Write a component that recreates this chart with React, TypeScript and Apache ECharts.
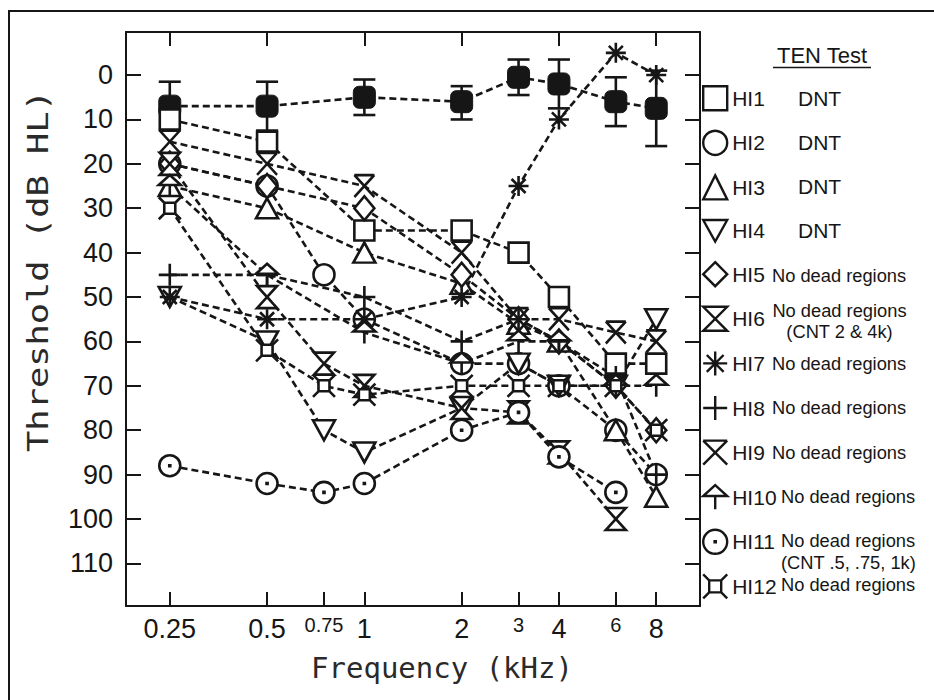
import React, { useEffect, useRef } from "react";
import * as echarts from "echarts";

// ---------- data ----------
const freqs = [0.25, 0.5, 0.75, 1, 2, 3, 4, 6, 8];
const xTickFreqs = [0.25, 0.5, 0.75, 1, 2, 3, 4, 6, 8];
const xTickLabels = ["0.25", "0.5", "0.75", "1", "2", "3", "4", "6", "8"];
const smallTickLabels = ["0.75", "3", "6"];
const topTickFreqs = [0.25, 0.5, 1, 2, 4, 8];
const yTicks = [0, 10, 20, 30, 40, 50, 60, 70, 80, 90, 100, 110];

// normal-hearing group mean with error bars (top = less hearing loss)
const normalMean = [7, 7, null, 5, 6, 0.5, 2, 6, 7.5];
const normalTop = [1.5, 1.5, null, 1, 2.5, -3.5, -3.5, 0.5, -1];
const normalBottom = [12.5, 12.5, null, 9, 10, 4.5, 7.5, 11.5, 16];

const listeners = ["HI1", "HI2", "HI3", "HI4", "HI5", "HI6", "HI7", "HI8", "HI9", "HI10", "HI11", "HI12"];
const hi1 = [10, 15, null, 35, 35, 40, 50, 65, 65];
const hi2 = [20, 25, 45, 55, 65, 65, 70, 80, 90];
const hi3 = [25, 30, null, 40, 47, 56, 60, 80, 95];
const hi4 = [50, 60, 80, 85, 75, 65, 70, 70, 55];
const hi5 = [20, 25, null, 30, 45, 55, 60, 70, 80];
const hi6 = [20, 50, 65, 70, 75, 76, 85, 100, null];
const hi7 = [50, 55, null, 55, 50, 25, 10, -5, 0];
const hi8 = [45, 45, null, 50, 60, 55, 60, 68, 90];
const hi9 = [15, 20, null, 25, 40, 55, 55, 58, 60];
const hi10 = [25, 45, null, 58, 65, 60, 60, 70, 70];
const hi11 = [88, 92, 94, 92, 80, 76, 86, 94, null];
const hi12 = [30, 62, 70, 72, 70, 70, 70, 70, 80];
const listenerValues = [hi1, hi2, hi3, hi4, hi5, hi6, hi7, hi8, hi9, hi10, hi11, hi12];

const tenResults = [
  "DNT", "DNT", "DNT", "DNT",
  "No dead regions", "No dead regions", "No dead regions", "No dead regions",
  "No dead regions", "No dead regions", "No dead regions", "No dead regions",
];
const tenNotes: Record<number, string> = { 5: "(CNT 2 & 4k)", 10: "(CNT .5, .75, 1k)" };

// ---------- styles ----------
const INK = "#161616";
const SANS = "'Liberation Sans', Arial, Helvetica, sans-serif";
const MONO = "'DejaVu Sans Mono', monospace";

const symbolStyles: [string, number[]][] = [
  ["rect", [20, 20]],
  ["circle", [21, 21]],
  ["triangle", [22, 20]],
  ["path://M0 0H20L10 18Z", [22, 20]],
  ["diamond", [20, 24]],
  ["path://M0 0H20L0 20H20Z", [20, 22]],
  ["path://M0 10H20M10 0V20M3 3L17 17M17 3L3 17", [20, 20]],
  ["path://M0 10H20M10 0V20", [22, 22]],
  ["path://M0 0H20M0 0L20 20M20 0L0 20", [20, 22]],
  ["path://M10 0L20 9H0Z M10 9V20", [22, 22]],
  ["path://M0 10A10 10 0 1 0 20 10A10 10 0 1 0 0 10Z M9.5 9.5H10.5V10.5H9.5Z", [21, 21]],
  ["path://M5 5H15V15H5Z M0 0L5 5 M20 0L15 5 M0 20L5 15 M20 20L15 15", [22, 22]],
];

const log2 = (f: number) => Math.log(f) / Math.LN2;
const pts = (vals: (number | null)[]) =>
  freqs
    .map((f, i) => (vals[i] == null ? null : [log2(f), vals[i] as number]))
    .filter((p) => p !== null) as number[][];

const dash = { color: INK, width: 2.6, type: [7, 4] as number[] };

export default function App() {
  const ref = useRef<HTMLDivElement>(null);

  useEffect(() => {
    if (!ref.current) return;
    const chart = echarts.init(ref.current, undefined, { renderer: "svg" });

    const xTickVals = xTickFreqs.map(log2);
    const topTickVals = topTickFreqs.map(log2);
    const axisLineStyle = { color: INK, width: 2 };

    const errData = freqs
      .map((f, i) => (normalMean[i] == null ? null : [log2(f), normalTop[i] as number, normalBottom[i] as number]))
      .filter((p) => p !== null) as number[][];

    const series: any[] = [
      {
        type: "custom",
        name: "errors",
        data: errData,
        encode: { x: 0, y: [1, 2] },
        silent: true,
        z: 1,
        renderItem: (params: any, api: any) => {
          const x = api.value(0);
          const a = api.coord([x, api.value(1)]);
          const b = api.coord([x, api.value(2)]);
          const w = 11;
          const st = { stroke: INK, lineWidth: 2.6 };
          return {
            type: "group",
            children: [
              { type: "line", shape: { x1: a[0], y1: a[1], x2: b[0], y2: b[1] }, style: st },
              { type: "line", shape: { x1: a[0] - w, y1: a[1], x2: a[0] + w, y2: a[1] }, style: st },
              { type: "line", shape: { x1: b[0] - w, y1: b[1], x2: b[0] + w, y2: b[1] }, style: st },
            ],
          };
        },
      },
      {
        type: "line",
        name: "Normal",
        data: pts(normalMean),
        symbol: "roundRect",
        symbolSize: 22,
        itemStyle: { color: INK, borderColor: INK, borderWidth: 1 },
        lineStyle: dash,
        silent: true,
        z: 2,
      },
    ];

    listeners.forEach((name, i) => {
      series.push({
        type: "line",
        name,
        data: pts(listenerValues[i]),
        symbol: symbolStyles[i][0],
        symbolSize: symbolStyles[i][1],
        itemStyle: { color: "#ffffff", borderColor: INK, borderWidth: 2.6 },
        lineStyle: dash,
        emphasis: { disabled: true },
        silent: true,
        z: 3,
      });
    });

    const rowY = (i: number) => 98 + i * 44.27;
    const graphics: any[] = [
      {
        type: "rect",
        shape: { x: 9, y: 11, width: 1000, height: 1000 },
        style: { fill: "none", stroke: INK, lineWidth: 2 },
        silent: true,
      },
      {
        type: "text",
        x: 822,
        y: 55,
        style: {
          text: "TEN Test", fontSize: 22, fontFamily: SANS, fill: INK,
          align: "center", verticalAlign: "middle", textAlign: "center", textVerticalAlign: "middle",
        },
      },
      {
        type: "line",
        shape: { x1: 773, y1: 67.5, x2: 871, y2: 67.5 },
        style: { stroke: INK, lineWidth: 1.5 },
      },
      {
        type: "text",
        x: 442,
        y: 668,
        style: {
          text: "Frequency (kHz)", fontSize: 29, fontFamily: MONO, fill: "#2a2a2a",
          align: "center", verticalAlign: "middle", textAlign: "center", textVerticalAlign: "middle",
        },
      },
      {
        type: "text",
        x: 38,
        y: 271,
        rotation: Math.PI / 2,
        scaleX: 1.22,
        style: {
          text: "Threshold (dB HL)", fontSize: 29, fontFamily: MONO, fill: "#2a2a2a",
          align: "center", verticalAlign: "middle", textAlign: "center", textVerticalAlign: "middle",
        },
      },
    ];

    tenResults.forEach((txt, i) => {
      const y = rowY(i);
      if (txt === "DNT") {
        graphics.push({
          type: "text", x: 798, y,
          style: { text: txt, fontSize: 21, fontFamily: SANS, fill: INK, align: "left", verticalAlign: "middle", textAlign: "left", textVerticalAlign: "middle" },
        });
      } else if (i === 5) {
        graphics.push({
          type: "text", x: 839.5, y: y - 9,
          style: { text: txt, fontSize: 18.3, fontFamily: SANS, fill: INK, align: "center", verticalAlign: "middle", textAlign: "center", textVerticalAlign: "middle" },
        });
        graphics.push({
          type: "text", x: 839.5, y: y + 12.5,
          style: { text: tenNotes[i], fontSize: 18.3, fontFamily: SANS, fill: INK, align: "center", verticalAlign: "middle", textAlign: "center", textVerticalAlign: "middle" },
        });
      } else {
        const x = i >= 9 ? 781 : 772;
        graphics.push({
          type: "text", x, y,
          style: { text: txt, fontSize: 18.3, fontFamily: SANS, fill: INK, align: "left", verticalAlign: "middle", textAlign: "left", textVerticalAlign: "middle" },
        });
        if (tenNotes[i]) {
          graphics.push({
            type: "text", x, y: y + 22,
            style: { text: tenNotes[i], fontSize: 18.3, fontFamily: SANS, fill: INK, align: "left", verticalAlign: "middle", textAlign: "left", textVerticalAlign: "middle" },
          });
        }
      }
    });

    const option: any = {
      animation: false,
      backgroundColor: "#ffffff",
      grid: { left: 126, top: 32, width: 574, height: 574 },
      xAxis: [
        {
          type: "value",
          min: -2.45,
          max: 3.45,
          position: "bottom",
          axisLine: { show: true, onZero: false, lineStyle: axisLineStyle },
          axisTick: { show: true, inside: true, length: 14, customValues: xTickVals, lineStyle: axisLineStyle },
          axisLabel: {
            customValues: xTickVals,
            margin: 9,
            formatter: (v: number) => {
              const i = xTickVals.findIndex((t) => Math.abs(t - v) < 1e-6);
              if (i < 0) return "";
              const l = xTickLabels[i];
              return smallTickLabels.includes(l) ? `{s|${l}}` : `{b|${l}}`;
            },
            rich: {
              b: { fontSize: 27, fontFamily: SANS, color: INK },
              s: { fontSize: 20, fontFamily: SANS, color: INK },
            },
          },
          splitLine: { show: false },
        },
        {
          type: "value",
          min: -2.45,
          max: 3.45,
          position: "top",
          axisLine: { show: true, onZero: false, lineStyle: axisLineStyle },
          axisTick: { show: true, inside: true, length: 14, customValues: topTickVals, lineStyle: axisLineStyle },
          axisLabel: { show: false },
          splitLine: { show: false },
        },
      ],
      yAxis: [
        {
          type: "value",
          inverse: true,
          min: -9.7,
          max: 119.6,
          position: "left",
          axisLine: { show: true, onZero: false, lineStyle: axisLineStyle },
          axisTick: { show: true, inside: true, length: 15, customValues: yTicks, lineStyle: axisLineStyle },
          axisLabel: { customValues: yTicks, margin: 13, fontSize: 27, fontFamily: SANS, color: INK },
          splitLine: { show: false },
        },
        {
          type: "value",
          inverse: true,
          min: -9.7,
          max: 119.6,
          position: "right",
          axisLine: { show: true, onZero: false, lineStyle: axisLineStyle },
          axisTick: { show: true, inside: true, length: 15, customValues: yTicks, lineStyle: axisLineStyle },
          axisLabel: { show: false },
          splitLine: { show: false },
        },
      ],
      legend: {
        orient: "vertical",
        left: 702,
        top: 85,
        padding: 0,
        itemWidth: 24,
        itemHeight: 24,
        itemGap: 18.2,
        selectedMode: false,
        data: listeners.map((n, i) => ({ name: n, icon: symbolStyles[i][0] })),
        itemStyle: { color: "#ffffff", borderColor: INK, borderWidth: 2.4 },
        textStyle: { fontFamily: SANS, fontSize: 21, color: INK },
      },
      graphic: graphics,
      series,
    };

    chart.setOption(option);
    return () => chart.dispose();
  }, []);

  return (
    <div
      ref={ref}
      style={{ position: "fixed", left: 0, top: 0, width: 934, height: 700, background: "#fff" }}
    />
  );
}
